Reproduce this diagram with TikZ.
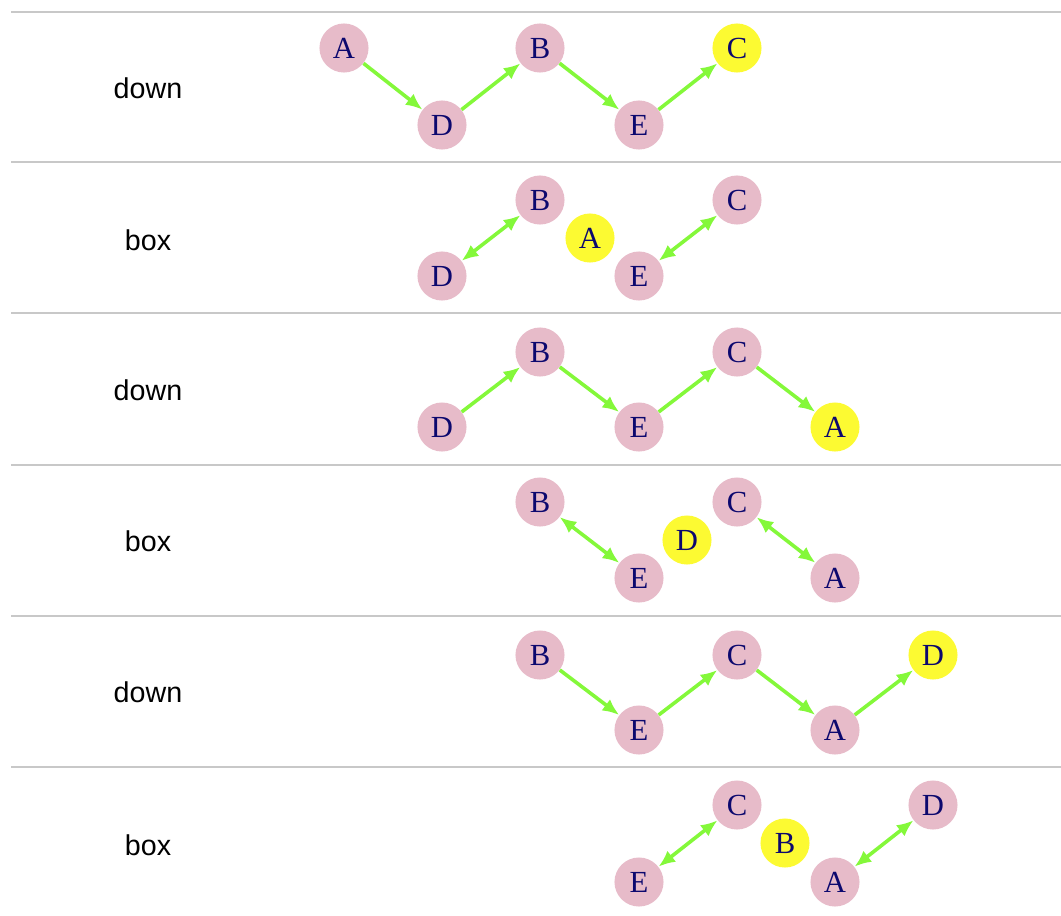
\documentclass[tikz,border=0pt]{standalone}
\usepackage{fontspec}
\setmainfont{Liberation Serif}
\setsansfont{Liberation Sans}
\usepackage{tikz}
\usetikzlibrary{arrows.meta,positioning}
\usepackage{xcolor}
\definecolor{nodepink}{RGB}{231,187,201}
\definecolor{nodeyellow}{RGB}{252,250,50}
\definecolor{edgegreen}{RGB}{132,248,58}
\definecolor{letterblue}{RGB}{12,8,110}
\definecolor{rulegray}{RGB}{200,200,200}

\begin{document}
\begin{tikzpicture}[x=0.75pt,y=-0.75pt,>={Latex[length=12.5pt,width=10.5pt]}]
\tikzstyle{vert}=[circle,fill=nodepink,minimum size=36.8pt,inner sep=0pt,text=letterblue,font=\fontsize{23}{23}\selectfont]
\tikzstyle{moved}=[vert,fill=nodeyellow]
\tikzstyle{steplabel}=[font=\sffamily\fontsize{21.5}{21.5}\selectfont]
\tikzstyle{link}=[edgegreen,line width=2.7pt]
\tikzstyle{sep}=[rulegray,line width=1.2pt]

\useasboundingbox (0,0) rectangle (1061,915);

% separators
\draw[sep] (11,12)--(1061,12);
\draw[sep] (11,162)--(1061,162);
\draw[sep] (11,313)--(1061,313);
\draw[sep] (11,465)--(1061,465);
\draw[sep] (11,616)--(1061,616);
\draw[sep] (11,767)--(1061,767);

% row 1: down
\node[steplabel] (lab1) at (148,88) {down};
\node[vert] (a1) at (344,48) {A};
\node[vert] (d1) at (442,125) {D};
\node[vert] (b1) at (540,48) {B};
\node[vert] (e1) at (639,125) {E};
\node[moved] (c1) at (737,48) {C};
\draw[->,link] (a1)--(d1);
\draw[->,link] (d1)--(b1);
\draw[->,link] (b1)--(e1);
\draw[->,link] (e1)--(c1);

% row 2: box
\node[steplabel] (lab2) at (148,240) {box};
\node[vert] (b2) at (540,200) {B};
\node[moved] (a2) at (590,238) {A};
\node[vert] (d2) at (442,276) {D};
\node[vert] (e2) at (639,276) {E};
\node[vert] (c2) at (737,200) {C};
\draw[<->,link] (d2)--(b2);
\draw[<->,link] (e2)--(c2);

% row 3: down
\node[steplabel] (lab3) at (148,390) {down};
\node[vert] (b3) at (540,352) {B};
\node[vert] (c3) at (737,352) {C};
\node[vert] (d3) at (442,427) {D};
\node[vert] (e3) at (639,427) {E};
\node[moved] (a3) at (835,427) {A};
\draw[->,link] (d3)--(b3);
\draw[->,link] (b3)--(e3);
\draw[->,link] (e3)--(c3);
\draw[->,link] (c3)--(a3);

% row 4: box
\node[steplabel] (lab4) at (148,541) {box};
\node[vert] (b4) at (540,502) {B};
\node[moved] (d4) at (687,540) {D};
\node[vert] (c4) at (737,502) {C};
\node[vert] (e4) at (639,578) {E};
\node[vert] (a4) at (835,578) {A};
\draw[<->,link] (b4)--(e4);
\draw[<->,link] (c4)--(a4);

% row 5: down
\node[steplabel] (lab5) at (148,692) {down};
\node[vert] (b5) at (540,655) {B};
\node[vert] (c5) at (737,655) {C};
\node[moved] (d5) at (933,655) {D};
\node[vert] (e5) at (639,730) {E};
\node[vert] (a5) at (835,730) {A};
\draw[->,link] (b5)--(e5);
\draw[->,link] (e5)--(c5);
\draw[->,link] (c5)--(a5);
\draw[->,link] (a5)--(d5);

% row 6: box
\node[steplabel] (lab6) at (148,845) {box};
\node[vert] (c6) at (737,805) {C};
\node[vert] (d6) at (933,805) {D};
\node[moved] (b6) at (785,843) {B};
\node[vert] (e6) at (639,882) {E};
\node[vert] (a6) at (835,882) {A};
\draw[<->,link] (e6)--(c6);
\draw[<->,link] (a6)--(d6);
\end{tikzpicture}
\end{document}
